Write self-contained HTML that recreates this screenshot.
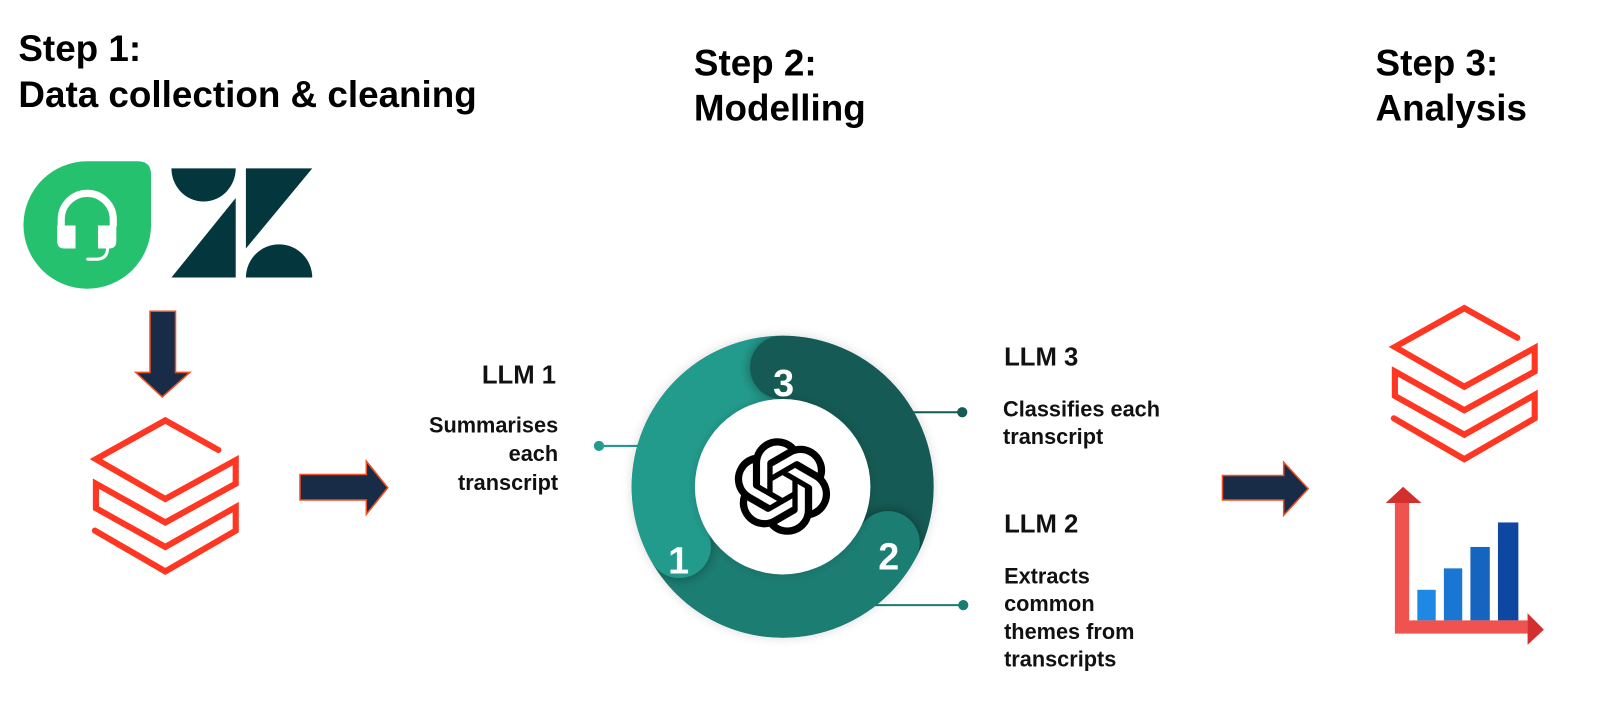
<!DOCTYPE html>
<html><head><meta charset="utf-8"><style>
html,body{margin:0;padding:0;background:#fff;width:1600px;height:727px;overflow:hidden}
svg{display:block}
text{font-family:"Liberation Sans",sans-serif;font-weight:bold;fill:#000}
.h{font-size:36.1px}
.l{font-size:25.2px;fill:#111}
.b{font-size:21.3px;fill:#111}
.n{font-size:37px;fill:#fff;text-anchor:middle}
</style></head><body>
<svg width="1600" height="727" viewBox="0 0 1568 712.46" xmlns="http://www.w3.org/2000/svg">
<defs>
<filter id="s" filterUnits="userSpaceOnUse" x="500" y="250" width="550" height="450"><feDropShadow dx="0" dy="0" stdDeviation="6" flood-color="#000" flood-opacity=".4"/></filter>
<filter id="g" filterUnits="userSpaceOnUse" x="500" y="250" width="550" height="450"><feDropShadow dx="0" dy="0" stdDeviation="5" flood-color="#000" flood-opacity=".15"/></filter>
<clipPath id="ring"><circle cx="767" cy="477" r="148"/></clipPath>
<path id="db" d="M214,441 L162,412 L94,450 L162,489 L231,451 L231,474 L162,512 L94,474 L94,498 L162,536 L231,497 L231,520 L162,560 L93,520" fill="none" stroke="#ff3621" stroke-width="6" stroke-linecap="round" stroke-linejoin="miter"/>
</defs>
<text class="h" x="18" y="60">Step 1:</text>
<text class="h" x="18" y="105">Data collection &amp; cleaning</text>
<text class="h" x="680" y="74">Step 2:</text>
<text class="h" x="680" y="118">Modelling</text>
<text class="h" x="1348" y="74">Step 3:</text>
<text class="h" x="1348" y="118">Analysis</text>

<path d="M85.5,158 L135,158 Q148,158 148,171 L148,220.5 A62.5,62.5 0 1 1 85.5,158Z" fill="#25c16f"/>
<path d="M60,222 L60,215 A25.5,25.5 0 0 1 111,215 L111,222" fill="none" stroke="#fff" stroke-width="7"/>
<path d="M56,221 H74 V243.5 H63 Q56,243.5 56,236Z" fill="#fff"/>
<path d="M96,221 H114 V236 Q114,243.5 107,243.5 H96Z" fill="#fff"/>
<path d="M105.5,243 Q105,254 95,254 H86" fill="none" stroke="#fff" stroke-width="3" stroke-linecap="round"/>

<g fill="#03363d">
<path d="M168,165 H231 A31.5,32.5 0 0 1 168,165Z"/>
<path d="M231,194 V272 H168Z"/>
<path d="M241,165 H306 L241,243.5Z"/>
<path d="M241,272 A32.5,32.5 0 0 1 306,272Z"/>
</g>

<g fill="#192c47" stroke="#f04e23" stroke-width="1.5">
<path d="M147,305 H172 V365 H186 L159,389 L133,365 H147Z"/>
<path d="M294,465 H359 V452 L380,478 L359,504 V490 H294Z"/>
<path d="M1198,466 H1258 V453 L1282,479 L1258,505 V490 H1198Z"/>
</g>

<use href="#db"/>
<use href="#db" x="1273" y="-110"/>

<g>
<line x1="587" y1="437" x2="628" y2="437" stroke="#239b8d" stroke-width="2"/>
<circle cx="587" cy="437" r="5" fill="#239b8d"/>
<line x1="890" y1="404" x2="943" y2="404" stroke="#155a54" stroke-width="2"/>
<circle cx="943" cy="404" r="5" fill="#155a54"/>
<line x1="855" y1="593" x2="944" y2="593" stroke="#1a7d72" stroke-width="2"/>
<circle cx="944" cy="593" r="5" fill="#1a7d72"/>
</g>

<circle cx="767" cy="477" r="148" fill="#1a7d72" filter="url(#g)"/>
<g clip-path="url(#ring)">
<g fill="none" stroke-width="62">
<path d="M766,360 A117,117 0 0 1 868.3,535.5" stroke="#155a54"/>
<g filter="url(#s)"><path d="M870.3,531.9 A117,117 0 0 1 663.7,531.9" stroke="#1a7d72"/><circle cx="870.3" cy="531.9" r="31" fill="#1a7d72" stroke="none"/></g>
<g filter="url(#s)"><path d="M665.7,535.5 A117,117 0 0 1 766,360" stroke="#239b8d"/><circle cx="665.7" cy="535.5" r="31" fill="#239b8d" stroke="none"/></g>
<g filter="url(#s)"><path d="M766,360 A117,117 0 0 1 790,362.3" stroke="#155a54"/><circle cx="766" cy="360" r="31" fill="#155a54" stroke="none"/></g>
<path d="M785,361.4 A117,117 0 0 1 865,413" stroke="#155a54"/>
</g>
</g>
<circle cx="767" cy="477" r="86" fill="#fff" filter="url(#g)"/>
<text class="n" x="665" y="562">1</text>
<text class="n" x="871" y="558">2</text>
<text class="n" x="768" y="388">3</text>

<path transform="translate(720,430) scale(3.9)" fill="#000" stroke="#000" stroke-width=".25" d="M22.2819 9.8211a5.9847 5.9847 0 0 0-.5157-4.9108 6.0462 6.0462 0 0 0-6.5098-2.9A6.0651 6.0651 0 0 0 4.9807 4.1818a5.9847 5.9847 0 0 0-3.9977 2.9 6.0462 6.0462 0 0 0 .7427 7.0966 5.98 5.98 0 0 0 .511 4.9107 6.051 6.051 0 0 0 6.5146 2.9001A5.9847 5.9847 0 0 0 13.2599 24a6.0557 6.0557 0 0 0 5.7718-4.2058 5.9894 5.9894 0 0 0 3.9977-2.9001 6.0557 6.0557 0 0 0-.7475-7.0729zm-9.022 12.6081a4.4755 4.4755 0 0 1-2.8764-1.0408l.1419-.0804 4.7783-2.7582a.7948.7948 0 0 0 .3927-.6813v-6.7369l2.02 1.1686a.071.071 0 0 1 .038.052v5.5826a4.504 4.504 0 0 1-4.4945 4.4944zm-9.6607-4.1254a4.4708 4.4708 0 0 1-.5346-3.0137l.142.0852 4.783 2.7582a.7712.7712 0 0 0 .7806 0l5.8428-3.3685v2.3324a.0804.0804 0 0 1-.0332.0615L9.74 19.9502a4.4992 4.4992 0 0 1-6.1408-1.6464zM2.3408 7.8956a4.485 4.485 0 0 1 2.3655-1.9728V11.6a.7664.7664 0 0 0 .3879.6765l5.8144 3.3543-2.0201 1.1685a.0757.0757 0 0 1-.071 0l-4.8303-2.7865A4.504 4.504 0 0 1 2.3408 7.872zm16.5963 3.8558L13.1038 8.364 15.1192 7.2a.0757.0757 0 0 1 .071 0l4.8303 2.7913a4.4944 4.4944 0 0 1-.6765 8.1042v-5.6772a.79.79 0 0 0-.407-.667zm2.0107-3.0231l-.142-.0852-4.7735-2.7818a.7759.7759 0 0 0-.7854 0L9.409 9.2297V6.8974a.0662.0662 0 0 1 .0284-.0615l4.8303-2.7866a4.4992 4.4992 0 0 1 6.6802 4.66zM8.3065 12.863l-2.02-1.1638a.0804.0804 0 0 1-.038-.0567V6.0742a4.4992 4.4992 0 0 1 7.3757-3.4537l-.142.0805L8.704 5.459a.7948.7948 0 0 0-.3927.6813zm1.0976-2.3654l2.602-1.4998 2.6069 1.4998v2.9994l-2.5974 1.4997-2.6067-1.4997Z"/>

<text class="l" x="545" y="376" text-anchor="end">LLM 1</text>
<text class="b" x="547" y="424" text-anchor="end">Summarises</text>
<text class="b" x="547" y="452" text-anchor="end">each</text>
<text class="b" x="547" y="480" text-anchor="end">transcript</text>
<text class="l" x="984" y="358">LLM 3</text>
<text class="b" x="983" y="408">Classifies each</text>
<text class="b" x="983" y="435">transcript</text>
<text class="l" x="984" y="522">LLM 2</text>
<text class="b" x="984" y="572">Extracts</text>
<text class="b" x="984" y="599">common</text>
<text class="b" x="984" y="626">themes from</text>
<text class="b" x="984" y="653">transcripts</text>

<rect x="1389" y="578" width="18" height="30" fill="#1e88e5"/>
<rect x="1415" y="557" width="18" height="51" fill="#1976d2"/>
<rect x="1441" y="536" width="19" height="72" fill="#1565c0"/>
<rect x="1468" y="512" width="20" height="96" fill="#0d47a1"/>
<path d="M1367,493 H1381 V608 H1497 V621 H1367Z" fill="#ef5350"/>
<path d="M1358,493 L1375,477 L1393,493Z" fill="#d32f2f"/>
<path d="M1497,601 L1513,617 L1497,632Z" fill="#d32f2f"/>
</svg>
</body></html>
